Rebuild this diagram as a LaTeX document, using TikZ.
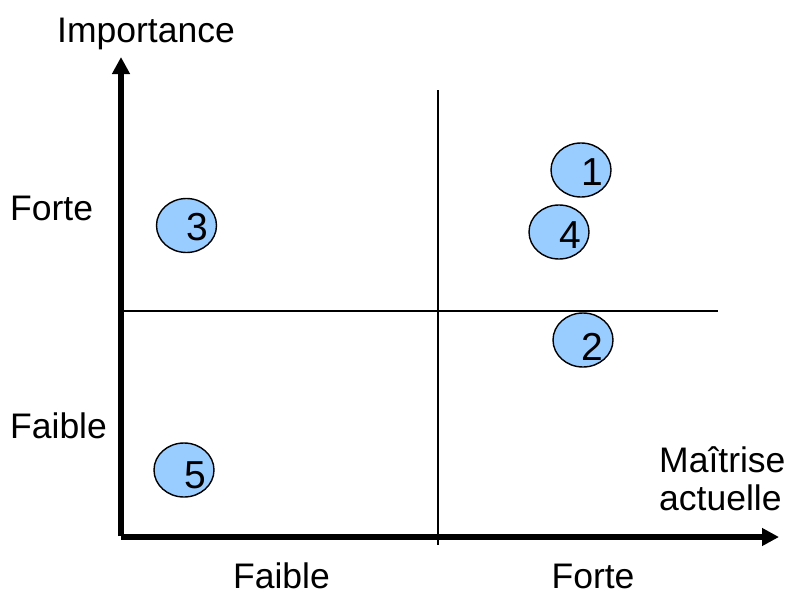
\documentclass[tikz,border=0pt]{standalone}
\usepackage{fontspec}
\setmainfont{Liberation Sans}
\usetikzlibrary{arrows.meta,shapes.geometric}
\begin{document}
\begin{tikzpicture}[x=1pt,y=-1pt,
  axis/.style={line width=6pt,-{Triangle[length=17pt,width=17pt]}},
  grid/.style={line width=2pt},
  item/.style={draw,line width=1.4pt,fill=itemblue,ellipse,minimum width=60pt,minimum height=54pt,inner sep=0pt},
  digit/.style={font=\fontsize{39}{39}\selectfont,inner sep=0pt,anchor=base},
  lbl/.style={font=\fontsize{35.5}{38}\selectfont,inner sep=0pt,anchor=base}]
\definecolor{itemblue}{HTML}{99CCFF}
\useasboundingbox (0,0) rectangle (794,594);
% quadrant separators
\coordinate (vtop) at (437.5,90);
\coordinate (vbot) at (437.5,545);
\coordinate (hl) at (121,311);
\coordinate (hr) at (718,311);
\draw[grid] (vtop) -- (vbot);
\draw[grid] (hl) -- (hr);
% axes
\coordinate (ybase) at (121,536);
\coordinate (xbase) at (121,537);
\coordinate (ytip) at (121,57);
\coordinate (xtip) at (779,537);
\draw[axis] (ybase) -- (ytip);
\draw[axis] (xbase) -- (xtip);
% items
\node[item] (e1) at (581,170) {};
\node[item] (e4) at (559,232) {};
\node[item] (e2) at (583,340) {};
\node[item] (e3) at (186.5,225.5) {};
\node[item] (e5) at (184,470) {};
\node[digit] (d1) at (592.5,185) {1};
\node[digit] (d4) at (570,248) {4};
\node[digit] (d2) at (592.5,360) {2};
\node[digit] (d3) at (197.5,240) {3};
\node[digit] (d5) at (195,488) {5};
% labels
\node[lbl] (tImp) at (146,42) {Importance};
\node[lbl,anchor=base west] (tFo) at (10,220) {Forte};
\node[lbl,anchor=base west] (tFa) at (10,438) {Faible};
\node[lbl] (tbFa) at (281.5,588) {Faible};
\node[lbl] (tbFo) at (593,588) {Forte};
\node[lbl,anchor=base west] (tMa) at (659,472) {Maîtrise};
\node[lbl,anchor=base west] (tAc) at (659,510) {actuelle};
\end{tikzpicture}
\end{document}
